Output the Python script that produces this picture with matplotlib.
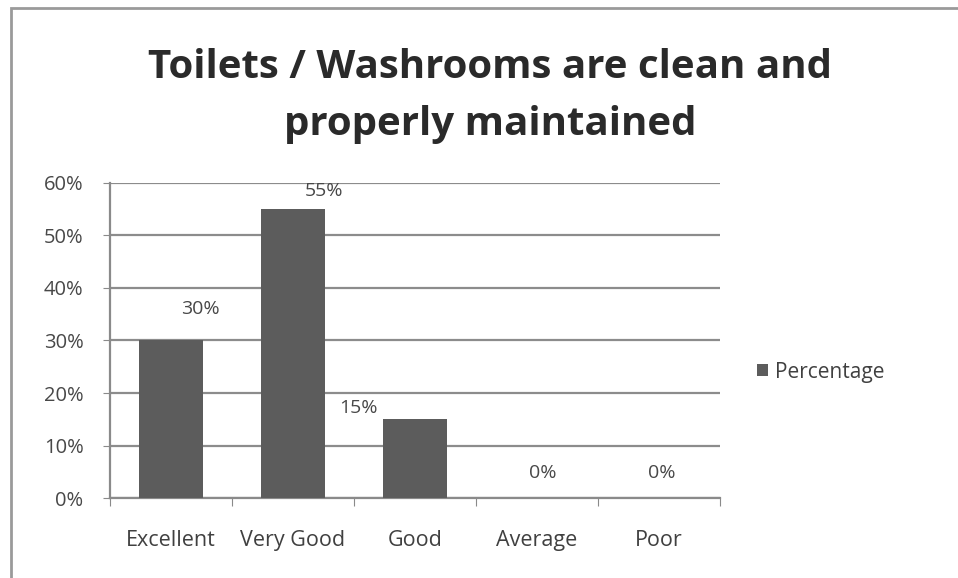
import matplotlib.pyplot as plt
from matplotlib.patches import Rectangle
from matplotlib.ticker import PercentFormatter

# Datos del grafico
categorias = ["Excellent", "Very Good", "Good", "Average", "Poor"]
porcentajes = [30, 55, 15, 0, 0]
etiquetas = ["30%", "55%", "15%", "0%", "0%"]
titulo = "Toilets / Washrooms are clean and\nproperly maintained"
serie = "Percentage"

# Desplazamiento de cada etiqueta (puntos)
desp_x = [21, 22, -41, 4, 2]
desp_y = [23, 13, 8, 18, 18]

plt.rcParams['font.family'] = ['Open Sans', 'DejaVu Sans']

fig = plt.figure(figsize=(9.58, 5.78), dpi=100)
ax = fig.add_axes([0.1148, 0.1384, 0.6368, 0.545])

x = range(len(categorias))
barras = ax.bar(x, porcentajes, width=0.52, color="#5c5c5c", label=serie, zorder=3)

for i, v in enumerate(porcentajes):
    ax.annotate(etiquetas[i], (i, v), xytext=(desp_x[i], desp_y[i]),
                textcoords="offset points", ha="center", va="center",
                fontsize=14, color="#484848")

ax.set_xlim(-0.5, len(categorias) - 0.5)
ax.set_ylim(0, 60)
ax.set_yticks(range(0, 61, 10))
ax.yaxis.set_major_formatter(PercentFormatter(decimals=0))
ax.set_xticks([i - 0.5 for i in range(len(categorias) + 1)])
ax.set_xticklabels([])
ax.set_xticks(list(x), minor=True)
ax.set_xticklabels(categorias, minor=True)
ax.tick_params(axis="x", which="minor", length=0, pad=23, labelsize=15.5, labelcolor="#404040")
ax.tick_params(axis="x", which="major", length=6, color="#8a8a8a")
ax.tick_params(axis="y", length=5, pad=14, labelsize=14.5, labelcolor="#484848", color="#8a8a8a")

ax.grid(axis="y", color="#8c8c8c", linewidth=1.6, zorder=0)
for s in ["top", "right"]:
    ax.spines[s].set_visible(False)
for s in ["left", "bottom"]:
    ax.spines[s].set_color("#8a8a8a")
    ax.spines[s].set_linewidth(1.6)

fig.text(0.512, 0.834, titulo, ha="center", va="center", fontsize=29,
         fontweight="bold", color="#2a2a2a", linespacing=1.62)

ax.legend(loc="center left", bbox_to_anchor=(1.03, 0.40), frameon=False,
          fontsize=15, handlelength=0.5, handleheight=0.5, handletextpad=0.35,
          labelcolor="#404040")

# Borde del grafico
fig.patches.append(Rectangle((0.011, -0.01), 1.2, 0.996, transform=fig.transFigure,
                             fill=False, edgecolor="#9a9a9a", linewidth=2))

fig.savefig("out.png", dpi=100)
